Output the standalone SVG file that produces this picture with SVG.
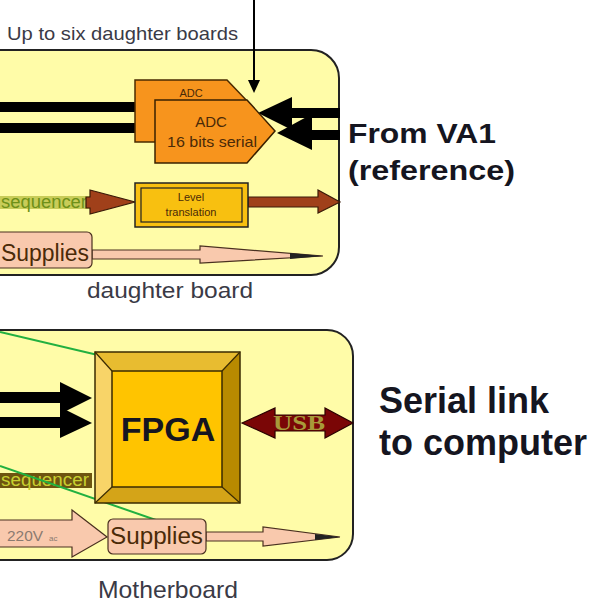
<svg xmlns="http://www.w3.org/2000/svg" width="595" height="605" viewBox="0 0 595 605">
<defs>
<style>
.board{fill:#FFFCA8;stroke:#222;stroke-width:2}
.lbl{font-family:"Liberation Sans",Arial,sans-serif;fill:#3a3a46}
.big{font-family:"Liberation Sans",Arial,sans-serif;font-weight:bold;fill:#151520}
.blk{fill:#000}
.brown{fill:#A0401A;stroke:#3a1a08;stroke-width:1.2}
.pink{fill:#F9C9AD;stroke:#4a3020;stroke-width:1.2}
.green{stroke:#22B040;stroke-width:2;fill:none}
.dk{font-family:"Liberation Sans",Arial,sans-serif;fill:#4a2a08}
</style>
</defs>
<rect width="595" height="605" fill="#fff"/>
<text class="lbl" x="7" y="40" font-size="19" textLength="231" lengthAdjust="spacingAndGlyphs">Up to six daughter boards</text>

<g id="daughter-board">
<rect class="board" x="-40" y="50" width="379" height="225" rx="28" ry="28"/>
<text class="lbl" x="87" y="298" font-size="22" textLength="166" lengthAdjust="spacingAndGlyphs">daughter board</text>
</g>

<g id="motherboard">
<rect class="board" x="-40" y="330" width="393" height="230" rx="26" ry="26"/>
<text class="lbl" x="98" y="598" font-size="24" textLength="140" lengthAdjust="spacingAndGlyphs">Motherboard</text>
</g>

<g id="connectors">
<line x1="254" y1="0" x2="254" y2="82" stroke="#000" stroke-width="2"/>
<polygon class="blk" points="248,80 260,80 254,93"/>
<rect class="blk" x="0" y="102" width="136" height="10"/>
<rect class="blk" x="0" y="123" width="156" height="10"/>
<polygon class="blk" points="340,108 292,108 292,97 258,113 292,130 292,118 340,118"/>
<polygon class="blk" points="340,130 312,130 312,114 277,133 312,150 312,140 340,140"/>
<rect x="0" y="196" width="90" height="13" fill="#C8CC58"/>
<text x="1" y="208" font-family="Liberation Sans,Arial,sans-serif" font-size="18" fill="#6E9018" textLength="86" lengthAdjust="spacingAndGlyphs">sequencer</text>
<polygon class="brown" points="90,190 135,202 90,214 90,208 86,208 86,197 90,197"/>
<polygon class="brown" points="248,197 318,197 318,190 340,202 318,213 318,207 248,207"/>
<polygon class="pink" points="92,250 200,250 200,246 323,256 200,263 200,259 92,259"/>
<polygon fill="#222" points="290,253 323,256 290,259"/>
<polygon class="blk" points="0,392 60,392 60,382 92,398 60,414 60,403 0,403"/>
<polygon class="blk" points="0,417 60,417 60,407 92,423 60,438 60,428 0,428"/>
<polygon fill="#7A0606" stroke="#2a0000" stroke-width="1.2" points="242,423 275,408 275,415 325,415 325,408 353,423 325,438 325,431 275,431 275,438"/>
<rect x="0" y="473" width="92" height="15" fill="#6E5410"/>
<text x="1" y="486" font-family="Liberation Sans,Arial,sans-serif" font-size="18" fill="#C8D030" textLength="88" lengthAdjust="spacingAndGlyphs">sequencer</text>
<polygon class="pink" points="-2,520 72,520 72,510 107,537 72,557 72,547 -2,547"/>
<text x="7" y="541" font-family="Liberation Sans,Arial,sans-serif" font-size="14" fill="#8a7a70" textLength="36" lengthAdjust="spacingAndGlyphs">220V</text>
<text x="49" y="541" font-family="Liberation Sans,Arial,sans-serif" font-size="8" fill="#8a7a70">ac</text>
<polygon class="pink" points="206,532 263,532 263,527 340,537 263,546 263,541 206,541"/>
<polygon fill="#222" points="315,534 340,537 315,540"/>
<line class="green" x1="0" y1="332" x2="170" y2="372"/>
<line class="green" x1="0" y1="466" x2="205" y2="537"/>
</g>

<g id="adc-back">
<polygon fill="#F7941D" stroke="#4a2a00" stroke-width="1.5" points="135,80 227,80 250,104 250,142 135,142"/>
<text class="dk" x="191" y="97" font-size="11" text-anchor="middle">ADC</text>
</g>

<g id="adc">
<polygon fill="#F7941D" stroke="#3a2000" stroke-width="1.5" points="155,100 247,100 275,131 247,163 155,163"/>
<text class="dk" x="211" y="127" font-size="15" text-anchor="middle">ADC</text>
<text class="dk" x="212" y="147" font-size="15" text-anchor="middle" textLength="90" lengthAdjust="spacingAndGlyphs">16 bits serial</text>
</g>

<g id="level-translation">
<rect x="135" y="183" width="113" height="44" fill="#F8C010" stroke="#222" stroke-width="1.5"/>
<rect x="141" y="188" width="101" height="34" fill="#F8C010" stroke="#222" stroke-width="1.2"/>
<text class="dk" x="191" y="201" font-size="11" text-anchor="middle">Level</text>
<text class="dk" x="191" y="216" font-size="11" text-anchor="middle">translation</text>
</g>

<g id="supplies-daughter">
<rect class="pink" x="-10" y="232" width="102" height="36" rx="5"/>
<text class="dk" x="1" y="261" font-size="23" fill="#5a3a2a" textLength="88" lengthAdjust="spacingAndGlyphs">Supplies</text>
</g>

<g id="fpga">
<polygon fill="#E8BC30" points="95,352 240,352 222,371 112,371"/>
<polygon fill="#F8D468" points="95,352 112,371 112,487 95,503"/>
<polygon fill="#B88A00" points="240,352 240,503 222,487 222,371"/>
<polygon fill="#D4A418" points="95,503 240,503 222,487 112,487"/>
<rect x="112" y="371" width="110" height="116" fill="#FFC400" stroke="#3a2a00" stroke-width="1.5"/>
<rect x="95" y="352" width="145" height="151" fill="none" stroke="#3a2a00" stroke-width="1.5"/>
<line x1="95" y1="352" x2="112" y2="371" stroke="#3a2a00" stroke-width="1.2"/>
<line x1="240" y1="352" x2="222" y2="371" stroke="#3a2a00" stroke-width="1.2"/>
<line x1="95" y1="503" x2="112" y2="487" stroke="#3a2a00" stroke-width="1.2"/>
<line x1="240" y1="503" x2="222" y2="487" stroke="#3a2a00" stroke-width="1.2"/>
<text class="big" x="168" y="441" font-size="34" text-anchor="middle" fill="#2a1a00">FPGA</text>
</g>

<g id="usb-label">
<text x="299" y="430" font-family="Liberation Serif,serif" font-weight="bold" font-size="20" fill="#A89A3A" text-anchor="middle" textLength="52" lengthAdjust="spacingAndGlyphs">USB</text>
</g>

<g id="supplies-mother">
<rect class="pink" x="108" y="519" width="98" height="35" rx="5"/>
<text class="dk" x="110" y="544" font-size="23" fill="#5a3a2a" textLength="93" lengthAdjust="spacingAndGlyphs">Supplies</text>
</g>

<g id="labels">
<text class="big" x="348" y="143" font-size="28" textLength="148" lengthAdjust="spacingAndGlyphs">From VA1</text>
<text class="big" x="348" y="180" font-size="28" textLength="167" lengthAdjust="spacingAndGlyphs">(reference)</text>
<text class="big" x="379" y="413" font-size="36">Serial link</text>
<text class="big" x="379" y="455" font-size="36">to computer</text>
</g>
</svg>
